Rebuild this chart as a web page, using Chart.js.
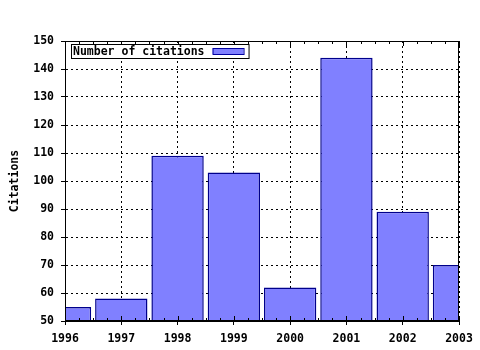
<!DOCTYPE html>
<html>
<head>
<meta charset="utf-8">
<script src="https://cdn.jsdelivr.net/npm/chart.js@4/dist/chart.umd.min.js"></script>
<style>
  html, body { margin:0; padding:0; background:#fff; }
  #wrap { width:480px; height:350px; }
</style>
</head>
<body>
<div id="wrap"><canvas id="chart" width="480" height="350"></canvas></div>
<script>
// citations per year
const years = ['1996','1997','1998','1999','2000','2001','2002','2003'];
const citations = [55, 58, 109, 103, 62, 144, 89, 70];
const yTicks = [50, 60, 70, 80, 90, 100, 110, 120, 130, 140, 150];
const seriesLabel = 'Number of citations';
const axisTitle = 'Citations';

const FONT = { family:'"DejaVu Sans Mono", monospace', size:11.5, weight:'bold' };

// frame, minor ticks and the boxed legend
const decor = {
  id:'decor',
  afterDraw(chart){
    const { ctx, chartArea:a, scales:{ x } } = chart;
    ctx.save();
    ctx.strokeStyle = '#000';
    ctx.lineWidth = 1;
    ctx.setLineDash([]);
    ctx.strokeRect(a.left + 0.5, a.top + 0.5, a.right - a.left - 1, a.bottom - a.top - 1);

    // minor ticks on top and bottom edges
    ctx.beginPath();
    for(let i = 0; i < years.length - 1; i++){
      const p0 = x.getPixelForTick(i), p1 = x.getPixelForTick(i + 1);
      for(let k = 0; k <= 4; k++){
        const px = Math.round(p0 + (p1 - p0) * k / 4) + 0.5;
        const len = k % 4 === 0 ? 5 : 3;
        ctx.moveTo(px, a.top); ctx.lineTo(px, a.top + len);
        ctx.moveTo(px, a.bottom); ctx.lineTo(px, a.bottom - len);
      }
    }
    ctx.stroke();

    // legend
    const lx = a.left + 6, ly = a.top + 3;
    ctx.font = `${FONT.weight} ${FONT.size}px ${FONT.family}`;
    const tw = ctx.measureText(seriesLabel).width;
    const bw = tw + 46, bh = 14;
    ctx.fillStyle = '#fff';
    ctx.fillRect(lx, ly, bw, bh);
    ctx.strokeRect(lx + 0.5, ly + 0.5, bw, bh);
    ctx.fillStyle = '#000';
    ctx.textBaseline = 'middle';
    ctx.fillText(seriesLabel, lx + 2, ly + bh / 2 + 1);
    const sx = lx + tw + 10;
    ctx.fillStyle = '#8080ff';
    ctx.fillRect(sx, ly + 4, 31, 6);
    ctx.strokeStyle = '#0000a0';
    ctx.strokeRect(sx + 0.5, ly + 4.5, 31, 6);
    ctx.restore();
  }
};

new Chart(document.getElementById('chart'), {
  type:'bar',
  data:{
    labels: years,
    datasets:[{
      label: seriesLabel,
      data: citations,
      backgroundColor:'#8080ff',
      borderColor:'#00008b',
      borderWidth:1.5,
      borderSkipped:false,
      inflateAmount:0,
      barPercentage:0.93,
      categoryPercentage:1
    }]
  },
  options:{
    responsive:false,
    animation:false,
    layout:{ padding:{ left:0, right:21, top:41, bottom:0 } },
    plugins:{ legend:{ display:false }, tooltip:{ enabled:false } },
    scales:{
      x:{
        offset:false,
        grid:{ color:'#000', lineWidth:1, drawTicks:true, tickLength:4, tickColor:'#000', offset:false },
        border:{ display:true, color:'#000', dash:[2,3] },
        ticks:{ color:'#000', font:FONT, padding:7, maxRotation:0, autoSkip:false },
        afterFit(s){ s.height = 29; }
      },
      y:{
        min:50, max:150,
        afterBuildTicks(s){ s.ticks = yTicks.map(v => ({ value:v })); },
        grid:{ color:'#000', lineWidth:1, drawTicks:true, tickLength:4, tickColor:'#000' },
        border:{ display:true, color:'#000', dash:[2,3] },
        ticks:{ color:'#000', font:FONT, padding:7 },
        title:{ display:true, text:axisTitle, color:'#000', font:FONT, padding:{ top:8, bottom:0 } },
        afterFit(s){ s.width = 65; }
      }
    }
  },
  plugins:[decor]
});
</script>
</body>
</html>
